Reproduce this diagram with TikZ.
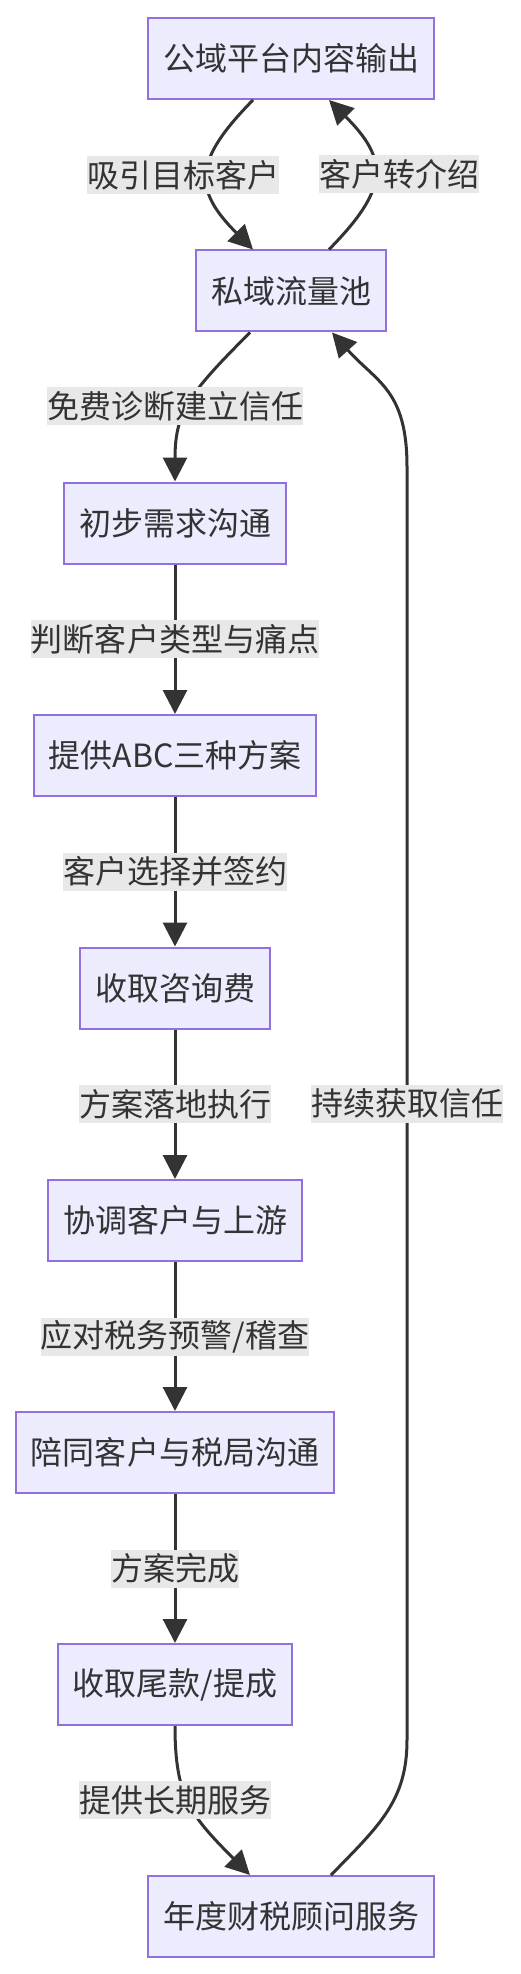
\documentclass[tikz,border=0pt]{standalone}
\usepackage{fontspec}
\setmainfont{Noto Sans CJK SC}
\usetikzlibrary{arrows.meta,calc}
\definecolor{reuna}{HTML}{9370DB}
\definecolor{tausta}{HTML}{ECECFF}
\definecolor{viiva}{HTML}{333333}
\definecolor{selitetausta}{HTML}{E8E8E8}

\begin{document}
\begin{tikzpicture}[x=0.5pt,y=-0.5pt,
laatikko/.style={draw=reuna,line width=1pt,fill=tausta,text=viiva,minimum height=40.5pt,inner xsep=7.5pt,inner ysep=0pt},
selite/.style={fill=selitetausta,text=viiva,inner sep=0pt,minimum height=19pt},
nuoli/.style={draw=viiva,line width=1.5pt,-{Triangle[length=12pt,width=12pt]}}]
\fontsize{16pt}{19pt}\selectfont
\useasboundingbox (0,0) rectangle (520,1974);
\node[laatikko] (1) at (291,58.5) {公域平台内容输出};
\node[laatikko] (2) at (291,291) {私域流量池};
\node[laatikko] (3) at (175,523) {初步需求沟通};
\node[laatikko] (4) at (175,755.5) {提供ABC三种方案};
\node[laatikko] (5) at (175,988) {收取咨询费};
\node[laatikko] (6) at (175,1220.5) {协调客户与上游};
\node[laatikko] (7) at (175,1452.5) {陪同客户与税局沟通};
\node[laatikko] (8) at (175,1684.5) {收取尾款/提成};
\node[laatikko] (9) at (291,1916.5) {年度财税顾问服务};
\path[nuoli] ($(1.south)+(-38,0)$) .. controls +(-60,61) and +(-60,-60) .. ($(2.north)+(-38,0)$) node[selite,midway,xshift=-12.5pt] {吸引目标客户};
\path[nuoli] ($(2.north)+(38,0)$) .. controls +(60,-61) and +(60,60) .. ($(1.south)+(38,0)$) node[selite,midway,xshift=12.5pt] {客户转介绍};
\path[nuoli] ($(2.south)+(-41,0)$) .. controls +(-60,60) and +(0,-70) .. (3.north) node[selite,midway,xshift=-7.5pt,yshift=-1.5pt] {免费诊断建立信任};
\path[nuoli] (3) -- node[selite] {判断客户类型与痛点} (4);
\path[nuoli] (4) -- node[selite] {客户选择并签约} (5);
\path[nuoli] (5) -- node[selite] {方案落地执行} (6);
\path[nuoli] (6) -- node[selite] {应对税务预警/稽查} (7);
\path[nuoli] (7) -- node[selite] {方案完成} (8);
\path[nuoli] (8.south) .. controls +(0,70) and +(-60,-60) .. ($(9.north)+(-41,0)$) node[selite,midway,xshift=-7.5pt,yshift=1.9pt] {提供长期服务};
\path[nuoli] ($(9.north)+(40,0)$) .. controls +(49,-50) and +(0,60) .. (407,1740) -- (407,467) node[selite,midway] {持续获取信任} .. controls +(0,-77) and +(45,50) .. ($(2.south)+(41,0)$);
\end{tikzpicture}
\end{document}
